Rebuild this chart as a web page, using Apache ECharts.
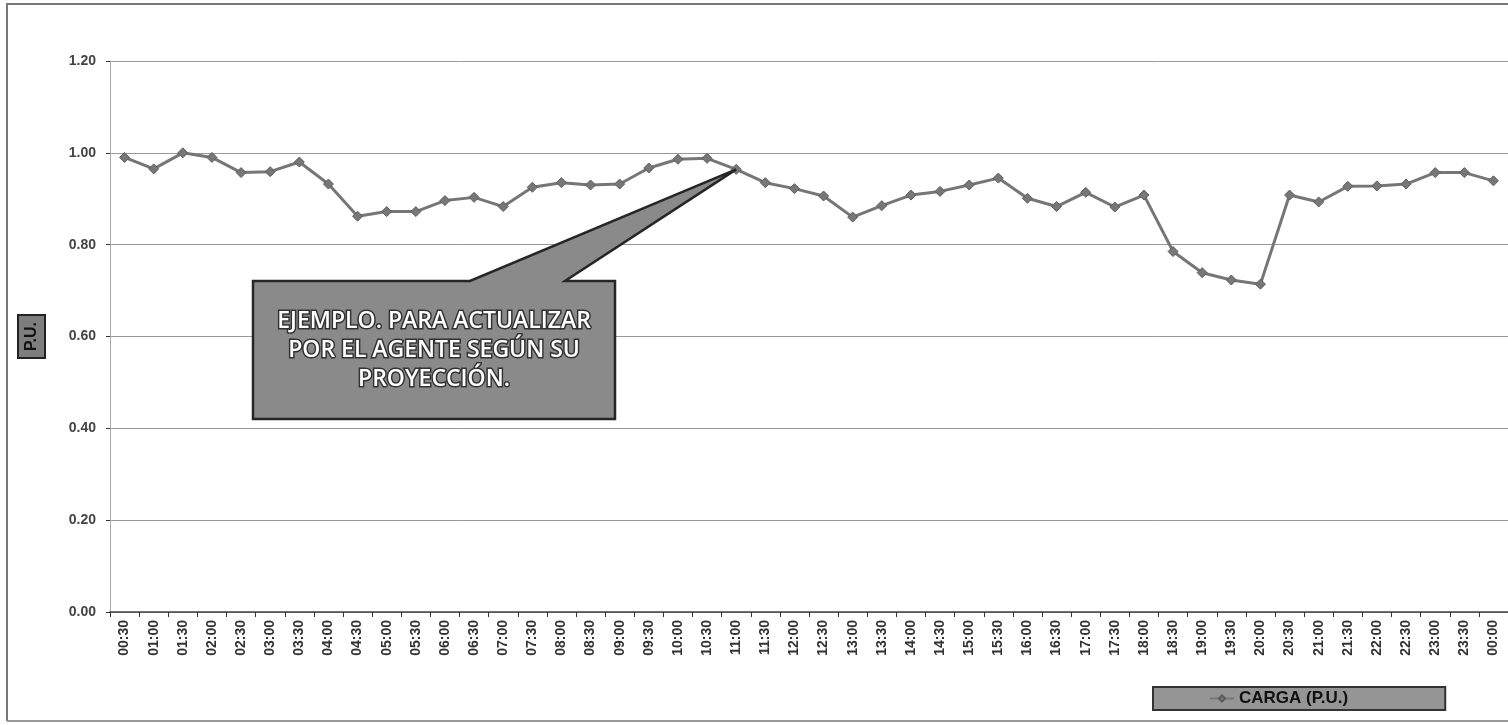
<!DOCTYPE html>
<html>
<head>
<meta charset="utf-8">
<script src="https://cdn.jsdelivr.net/npm/echarts@6/dist/echarts.min.js"></script>
<style>html,body{margin:0;padding:0;background:#fff;}#c{width:1508px;height:725px;}</style>
</head>
<body>
<div id="c"></div>
<script>
const categories = ["00:30","01:00","01:30","02:00","02:30","03:00","03:30","04:00","04:30","05:00","05:30","06:00","06:30","07:00","07:30","08:00","08:30","09:00","09:30","10:00","10:30","11:00","11:30","12:00","12:30","13:00","13:30","14:00","14:30","15:00","15:30","16:00","16:30","17:00","17:30","18:00","18:30","19:00","19:30","20:00","20:30","21:00","21:30","22:00","22:30","23:00","23:30","00:00"];
const cargaValues = [0.99,0.965,1.00,0.99,0.957,0.959,0.98,0.932,0.862,0.872,0.872,0.896,0.903,0.883,0.925,0.935,0.930,0.932,0.967,0.986,0.988,0.964,0.935,0.922,0.906,0.860,0.885,0.908,0.916,0.930,0.945,0.901,0.883,0.914,0.882,0.908,0.785,0.739,0.723,0.714,0.908,0.893,0.927,0.928,0.932,0.957,0.957,0.939];
const yTicks = [0, 0.2, 0.4, 0.6, 0.8, 1.0, 1.2];
const seriesName = "CARGA (P.U.)";
const calloutLines = ["EJEMPLO. PARA ACTUALIZAR", "POR EL AGENTE SEGÚN SU", "PROYECCIÓN."];
const calloutIndex = 21;

const chart = echarts.init(document.getElementById('c'));
const option = {
  animation: false,
  backgroundColor: '#fff',
  grid: { left: 110, right: 0, top: 61, bottom: 113, containLabel: false },
  legend: {
    data: [seriesName],
    left: 1153, top: 687, width: 292,
    itemWidth: 24, itemHeight: 8,
    backgroundColor: '#959595', borderColor: '#333', borderWidth: 2,
    padding: [3, 97, 3, 56],
    textStyle: { fontFamily: 'Liberation Sans', fontWeight: 'bold', fontSize: 17, color: '#111' }
  },
  xAxis: {
    type: 'category', data: categories, boundaryGap: true,
    axisLine: { lineStyle: { color: '#444', width: 1.5 } },
    axisTick: { show: true, length: 5, lineStyle: { color: '#333' } },
    axisLabel: { rotate: 90, interval: 0, fontFamily: 'Liberation Sans', fontWeight: 'bold', fontSize: 14, color: '#333', margin: 8 }
  },
  yAxis: {
    type: 'value', min: 0, max: 1.2, interval: 0.2,
    name: 'P.U.', nameLocation: 'middle', nameGap: 66, nameRotate: 90,
    nameTextStyle: { fontFamily: 'Liberation Sans', fontWeight: 'bold', fontSize: 16, color: '#111',
      backgroundColor: '#7e7e7e', borderColor: '#222', borderWidth: 2, padding: [5, 6, 4, 6] },
    axisLine: { show: true, lineStyle: { color: '#aaa', width: 1 } },
    axisTick: { show: true, length: 4, inside: false, lineStyle: { color: '#333' } },
    axisLabel: { formatter: v => v.toFixed(2), fontFamily: 'Liberation Sans', fontWeight: 'bold', fontSize: 14, color: '#444', margin: 14 },
    splitLine: { lineStyle: { color: '#999', width: 1 } }
  },
  series: [{
    name: seriesName, type: 'line', data: cargaValues,
    symbol: 'diamond', symbolSize: 10,
    lineStyle: { color: '#767676', width: 3 },
    itemStyle: { color: '#777', borderColor: '#5e5e5e', borderWidth: 1 }
  }]
};
chart.setOption(option);

const tip = chart.convertToPixel({ seriesIndex: 0 }, [calloutIndex, cargaValues[calloutIndex]]);
const bx = 253, by = 281, bw = 362, bh = 138;
chart.setOption({
  graphic: [
    { type: 'polyline', shape: { points: [[7, 721], [7, 4], [1508, 4]] }, style: { stroke: '#777', lineWidth: 2, fill: null }, silent: true },
    { type: 'line', shape: { x1: 7, y1: 721, x2: 1508, y2: 721 }, style: { stroke: '#999', lineWidth: 2 }, silent: true },
    { type: 'polygon', z: 100,
      shape: { points: [[bx, by], [470, by], [tip[0], tip[1]], [565, by], [bx + bw, by], [bx + bw, by + bh], [bx, by + bh]] },
      style: { fill: '#8a8a8a', stroke: '#262626', lineWidth: 2.5 } },
    { type: 'text', z: 101,
      style: { text: calloutLines.join('\n'), x: bx + bw / 2, y: by + 26, align: 'center', textAlign: 'center',
        fontFamily: 'Open Sans', fontWeight: 600, fontSize: 23, lineHeight: 29, fill: '#fff', stroke: '#333', lineWidth: 3 } }
  ]
});
</script>
</body>
</html>
